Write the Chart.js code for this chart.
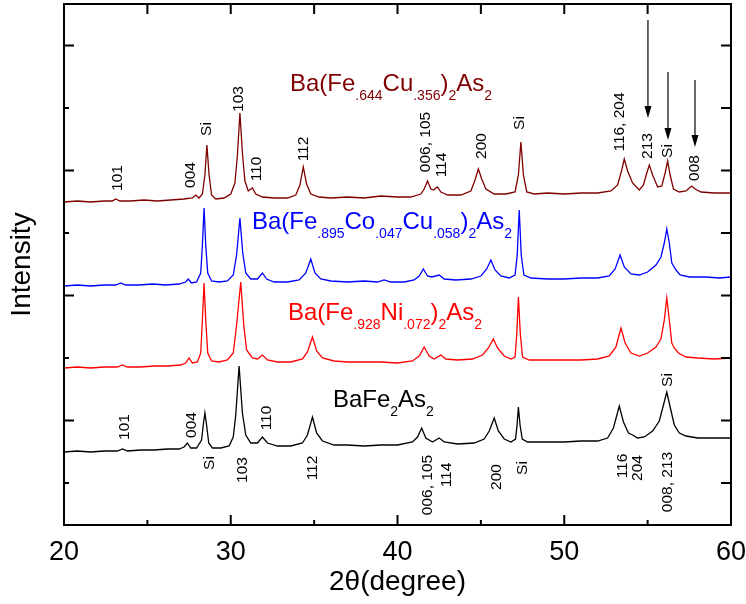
<!DOCTYPE html>
<html>
<head>
<meta charset="utf-8">
<script src="https://cdn.jsdelivr.net/npm/chart.js@4"></script>
<style>
  body { margin: 0; background: #fff; }
  #wrap { width: 746px; height: 604px; }
</style>
</head>
<body>
<div id="wrap"><canvas id="xrdChart" width="746" height="604"></canvas></div>
<script>
// x ticks (2theta) and y tick marks (no labels on intensity axis)
const xMajorTicks = [20, 30, 40, 50, 60];
const xMinorTicks = [25, 35, 45, 55];
const yMajorTicks = [104.5, 229.5, 354.5, 479.5];
const yMinorTicks = [42, 167, 292, 417];

// Ba(Fe.644Cu.356)2As2
const cuTheta = [20.0, 20.8, 21.6, 22.4, 22.9, 23.1, 23.35, 24.0, 24.8, 25.6, 26.4, 27.2, 27.7, 27.9, 28.1, 28.3, 28.45, 28.57, 28.7, 28.85, 29.1, 29.6, 30.0, 30.25, 30.4, 30.55, 30.7, 30.85, 31.05, 31.3, 31.5, 31.9, 32.6, 33.4, 33.9, 34.15, 34.35, 34.55, 34.8, 35.3, 36.0, 37.0, 38.0, 39.0, 40.0, 40.8, 41.4, 41.6, 41.8, 42.0, 42.15, 42.4, 42.6, 43.0, 43.8, 44.4, 44.65, 44.85, 45.05, 45.3, 45.8, 46.5, 47.05, 47.25, 47.4, 47.55, 47.75, 48.2, 49.0, 50.0, 51.0, 52.0, 52.8, 53.2, 53.45, 53.6, 53.8, 54.1, 54.5, 54.75, 54.95, 55.1, 55.3, 55.6, 55.85, 56.05, 56.2, 56.35, 56.55, 56.9, 57.3, 57.5, 57.65, 57.85, 58.2, 59.0, 60.0];
const cuCounts = [323, 324, 323, 324, 324, 326, 324, 324, 325, 324, 325, 326, 327, 330, 327, 331, 350, 380, 350, 330, 326, 327, 331, 342, 370, 412, 372, 344, 334, 337, 331, 328, 327, 327, 330, 340, 358, 341, 331, 328, 327, 328, 327, 329, 328, 328, 331, 336, 344, 336, 335, 338, 333, 330, 330, 334, 345, 356, 346, 336, 331, 331, 333, 350, 383, 350, 333, 331, 332, 331, 332, 332, 334, 340, 355, 366, 354, 342, 335, 340, 352, 360, 350, 338, 339, 352, 364, 350, 336, 333, 334, 337, 339, 336, 333, 332, 332];

// Ba(Fe.895Co.047Cu.058)2As2
const coTheta = [20.0, 20.8, 21.6, 22.4, 23.1, 23.4, 23.7, 24.5, 25.3, 26.1, 26.9, 27.3, 27.45, 27.65, 27.95, 28.2, 28.3, 28.4, 28.5, 28.62, 28.85, 29.3, 29.8, 30.15, 30.35, 30.55, 30.72, 30.9, 31.2, 31.6, 31.9, 32.15, 32.6, 33.4, 34.1, 34.5, 34.8, 35.05, 35.4, 36.0, 37.0, 38.0, 38.8, 39.2, 39.6, 40.4, 41.0, 41.3, 41.55, 41.8, 42.05, 42.5, 42.8, 43.5, 44.4, 45.0, 45.35, 45.6, 45.85, 46.2, 46.7, 47.05, 47.18, 47.3, 47.42, 47.58, 48.0, 49.0, 50.0, 51.0, 52.0, 52.7, 53.05, 53.35, 53.6, 54.0, 54.5, 55.0, 55.5, 55.8, 56.0, 56.15, 56.3, 56.45, 56.7, 56.95, 57.5, 58.5, 59.3, 60.0];
const coCounts = [239, 240, 239, 240, 240, 242, 240, 240, 241, 240, 241, 243, 246, 242, 243, 252, 280, 317, 280, 252, 244, 243, 244, 250, 270, 307, 272, 252, 246, 246, 252, 246, 243, 243, 245, 252, 266, 252, 246, 244, 243, 244, 243, 245, 243, 243, 245, 249, 256, 249, 248, 250, 246, 245, 246, 249, 256, 265, 255, 249, 247, 250, 270, 315, 270, 250, 247, 246, 246, 247, 247, 249, 256, 270, 258, 251, 250, 253, 260, 268, 282, 296, 282, 262, 255, 250, 248, 248, 247, 248];

// Ba(Fe.928Ni.072)2As2
const niTheta = [20.0, 20.8, 21.6, 22.4, 23.2, 23.5, 23.8, 24.6, 25.4, 26.2, 27.0, 27.3, 27.5, 27.7, 28.0, 28.2, 28.3, 28.4, 28.5, 28.62, 28.85, 29.3, 29.8, 30.15, 30.35, 30.6, 30.78, 30.95, 31.3, 31.6, 31.9, 32.2, 32.8, 33.6, 34.3, 34.6, 34.9, 35.15, 35.5, 36.2, 37.0, 38.0, 39.0, 40.0, 40.9, 41.3, 41.6, 41.9, 42.2, 42.6, 42.9, 43.6, 44.5, 45.1, 45.45, 45.75, 46.0, 46.4, 46.8, 47.05, 47.15, 47.25, 47.37, 47.5, 47.9, 49.0, 50.0, 51.0, 52.0, 52.7, 53.1, 53.4, 53.65, 54.0, 54.5, 55.0, 55.5, 55.8, 56.0, 56.15, 56.3, 56.45, 56.6, 56.85, 57.3, 58.0, 59.0, 60.0];
const niCounts = [157, 158, 157, 158, 158, 160, 158, 158, 159, 159, 160, 162, 167, 162, 163, 172, 205, 242, 205, 172, 164, 163, 165, 172, 200, 243, 200, 175, 167, 166, 170, 165, 163, 163, 166, 173, 188, 174, 167, 164, 163, 163, 163, 162, 164, 169, 178, 169, 166, 170, 166, 165, 166, 170, 177, 186, 177, 169, 166, 168, 190, 228, 190, 168, 165, 165, 165, 165, 166, 169, 178, 197, 182, 172, 169, 172, 178, 186, 205, 227, 205, 182, 177, 172, 168, 167, 166, 167];

// BaFe2As2
const baTheta = [20.0, 20.8, 21.6, 22.4, 23.2, 23.5, 23.8, 24.6, 25.4, 26.2, 26.9, 27.2, 27.4, 27.6, 27.95, 28.25, 28.35, 28.45, 28.55, 28.68, 28.9, 29.4, 29.9, 30.15, 30.3, 30.5, 30.7, 30.9, 31.2, 31.6, 31.9, 32.2, 32.8, 33.6, 34.3, 34.6, 34.9, 35.15, 35.5, 36.2, 37.0, 38.0, 39.0, 40.0, 40.9, 41.2, 41.45, 41.7, 42.1, 42.5, 42.8, 43.6, 44.6, 45.2, 45.5, 45.8, 46.05, 46.4, 46.8, 47.08, 47.17, 47.25, 47.35, 47.48, 47.8, 49.0, 50.0, 51.0, 52.0, 52.6, 52.95, 53.3, 53.55, 53.85, 54.1, 54.4, 54.8, 55.3, 55.7, 55.95, 56.15, 56.35, 56.6, 56.9, 57.3, 58.0, 59.0, 60.0];
const baCounts = [73, 74, 73, 74, 74, 76, 74, 75, 75, 76, 76, 78, 82, 77, 77, 85, 100, 112, 100, 82, 77, 77, 79, 88, 110, 159, 112, 90, 82, 82, 88, 82, 79, 79, 82, 90, 108, 92, 84, 80, 80, 79, 80, 80, 83, 88, 97, 87, 83, 87, 83, 81, 82, 86, 94, 107, 94, 86, 83, 86, 100, 118, 100, 86, 83, 83, 83, 84, 84, 87, 97, 119, 103, 92, 90, 87, 88, 94, 104, 120, 133, 118, 100, 92, 89, 87, 87, 87];

// peak indices: [text, 2theta, intensity at label centre]
const cuPeakLabels = [
  ['101', 23.24, 347], ['004', 27.62, 350], ['Si', 28.58, 396], ['103', 30.49, 426],
  ['110', 31.57, 356], ['112', 34.39, 376], ['006, 105', 41.71, 383], ['114', 42.67, 360],
  ['200', 45.07, 379], ['Si', 47.35, 402], ['116, 204', 53.34, 403], ['213', 55.02, 379],
  ['Si', 56.22, 374], ['008', 57.84, 357]
];
const baPeakLabels = [
  ['101', 23.66, 98], ['004', 27.68, 100], ['110', 32.17, 107], ['Si', 28.76, 62],
  ['103', 30.73, 55], ['112', 34.93, 57], ['006, 105', 41.83, 40], ['114', 42.97, 50],
  ['200', 45.97, 48], ['Si', 47.53, 57], ['116', 53.52, 59], ['204', 54.42, 57],
  ['008, 213', 56.22, 43], ['Si', 56.22, 145]
];

// arrows: [2theta, top intensity, tip intensity]
const arrowMarks = [[55.02, 505, 407], [56.22, 453, 385], [57.84, 445, 378]];

// sample names: pieces [text, isSubscript], start 2theta, baseline intensity
const cuName = [['Ba(Fe', 0], ['.644', 1], ['Cu', 0], ['.356', 1], [')', 0], ['2', 1], ['As', 0], ['2', 1]];
const coName = [['Ba(Fe', 0], ['.895', 1], ['Co', 0], ['.047', 1], ['Cu', 0], ['.058', 1], [')', 0], ['2', 1], ['As', 0], ['2', 1]];
const niName = [['Ba(Fe', 0], ['.928', 1], ['Ni', 0], ['.072', 1], [')', 0], ['2', 1], ['As', 0], ['2', 1]];
const baName = [['BaFe', 0], ['2', 1], ['As', 0], ['2', 1]];

const sampleNames = [
  { parts: cuName, x: 33.55, y: 434, color: '#800000' },
  { parts: coName, x: 31.27, y: 296, color: '#0000ff' },
  { parts: niName, x: 33.43, y: 205, color: '#ff0000' },
  { parts: baName, x: 36.13, y: 118, color: '#000000' }
];

const FONT = '"Liberation Sans", Arial, sans-serif';

const toPoints = (xs, ys) => xs.map((x, i) => ({ x: x, y: ys[i] }));

const makeSeries = (label, xs, ys, color) => ({
  label: label,
  data: toPoints(xs, ys),
  borderColor: color,
  borderWidth: 1.3,
  pointRadius: 0,
  tension: 0,
  fill: false
});

const framePlugin = {
  id: 'frame',
  afterDatasetsDraw(chart) {
    const { ctx, chartArea: a, scales: { x, y } } = chart;
    ctx.save();
    ctx.strokeStyle = '#000';
    ctx.lineWidth = 2;
    ctx.beginPath();
    xMajorTicks.concat(xMinorTicks).forEach(v => {
      const px = x.getPixelForValue(v);
      const len = xMajorTicks.includes(v) ? 10 : 5;
      ctx.moveTo(px, a.bottom);
      ctx.lineTo(px, a.bottom - len);
      ctx.moveTo(px, a.top);
      ctx.lineTo(px, a.top + 10);
    });
    yMajorTicks.concat(yMinorTicks).forEach(v => {
      const py = y.getPixelForValue(v);
      const len = yMajorTicks.includes(v) ? 10 : 5;
      ctx.moveTo(a.left, py);
      ctx.lineTo(a.left + len, py);
      ctx.moveTo(a.right, py);
      ctx.lineTo(a.right - 10, py);
    });
    ctx.stroke();
    ctx.strokeRect(a.left, a.top, a.right - a.left, a.bottom - a.top);
    ctx.restore();
  }
};

const labelPlugin = {
  id: 'peakLabels',
  afterDraw(chart) {
    const { ctx, scales: { x, y } } = chart;
    ctx.save();

    // rotated peak indices
    ctx.fillStyle = '#000';
    ctx.font = '15.5px ' + FONT;
    ctx.textAlign = 'center';
    ctx.textBaseline = 'middle';
    cuPeakLabels.concat(baPeakLabels).forEach(([text, tx, ty]) => {
      ctx.save();
      ctx.translate(x.getPixelForValue(tx), y.getPixelForValue(ty));
      ctx.rotate(-Math.PI / 2);
      ctx.fillText(text, 0, 0);
      ctx.restore();
    });

    // arrows
    ctx.strokeStyle = '#000';
    ctx.lineWidth = 1.2;
    arrowMarks.forEach(([ax, top, tip]) => {
      const px = x.getPixelForValue(ax);
      const y0 = y.getPixelForValue(top);
      const y1 = y.getPixelForValue(tip);
      ctx.beginPath();
      ctx.moveTo(px, y0);
      ctx.lineTo(px, y1 - 10);
      ctx.stroke();
      ctx.beginPath();
      ctx.moveTo(px - 3.5, y1 - 12);
      ctx.lineTo(px + 3.5, y1 - 12);
      ctx.lineTo(px, y1);
      ctx.closePath();
      ctx.fill();
    });

    // sample names with subscripts
    ctx.textAlign = 'left';
    ctx.textBaseline = 'alphabetic';
    sampleNames.forEach(n => {
      let px = x.getPixelForValue(n.x);
      const base = y.getPixelForValue(n.y);
      ctx.fillStyle = n.color;
      n.parts.forEach(([text, sub]) => {
        ctx.font = (sub ? '14px ' : '24px ') + FONT;
        ctx.fillText(text, px, sub ? base + 9 : base);
        px += ctx.measureText(text).width;
      });
    });

    ctx.restore();
  }
};

const ctx = document.getElementById('xrdChart').getContext('2d');

new Chart(ctx, {
  type: 'line',
  data: {
    datasets: [
      makeSeries('Ba(Fe.644Cu.356)2As2', cuTheta, cuCounts, '#800000'),
      makeSeries('Ba(Fe.895Co.047Cu.058)2As2', coTheta, coCounts, '#0000ff'),
      makeSeries('Ba(Fe.928Ni.072)2As2', niTheta, niCounts, '#ff0000'),
      makeSeries('BaFe2As2', baTheta, baCounts, '#000000')
    ]
  },
  options: {
    responsive: false,
    animation: false,
    layout: { padding: { top: 4, right: 15, left: 0, bottom: 0 } },
    plugins: {
      legend: { display: false },
      tooltip: { enabled: false }
    },
    scales: {
      x: {
        type: 'linear',
        min: 20,
        max: 60,
        afterBuildTicks: scale => {
          scale.ticks = xMajorTicks.map(v => ({ value: v }));
        },
        afterFit: scale => {
          scale.height = 79;
          scale.paddingLeft = 0;
          scale.paddingRight = 0;
        },
        grid: { display: false },
        border: { display: false },
        ticks: {
          color: '#000',
          padding: 3,
          maxRotation: 0,
          autoSkip: false,
          font: { family: FONT, size: 27 }
        },
        title: {
          display: true,
          text: '2θ(degree)',
          color: '#000',
          padding: { top: 0, bottom: 5 },
          font: { family: FONT, size: 28 }
        }
      },
      y: {
        min: 0,
        max: 521,
        afterFit: scale => {
          scale.width = 64;
          scale.paddingTop = 0;
          scale.paddingBottom = 0;
        },
        grid: { display: false },
        border: { display: false },
        ticks: { display: false },
        title: {
          display: true,
          text: 'Intensity',
          color: '#000',
          padding: { top: 5, bottom: 0 },
          font: { family: FONT, size: 28 }
        }
      }
    }
  },
  plugins: [framePlugin, labelPlugin]
});
</script>
</body>
</html>
